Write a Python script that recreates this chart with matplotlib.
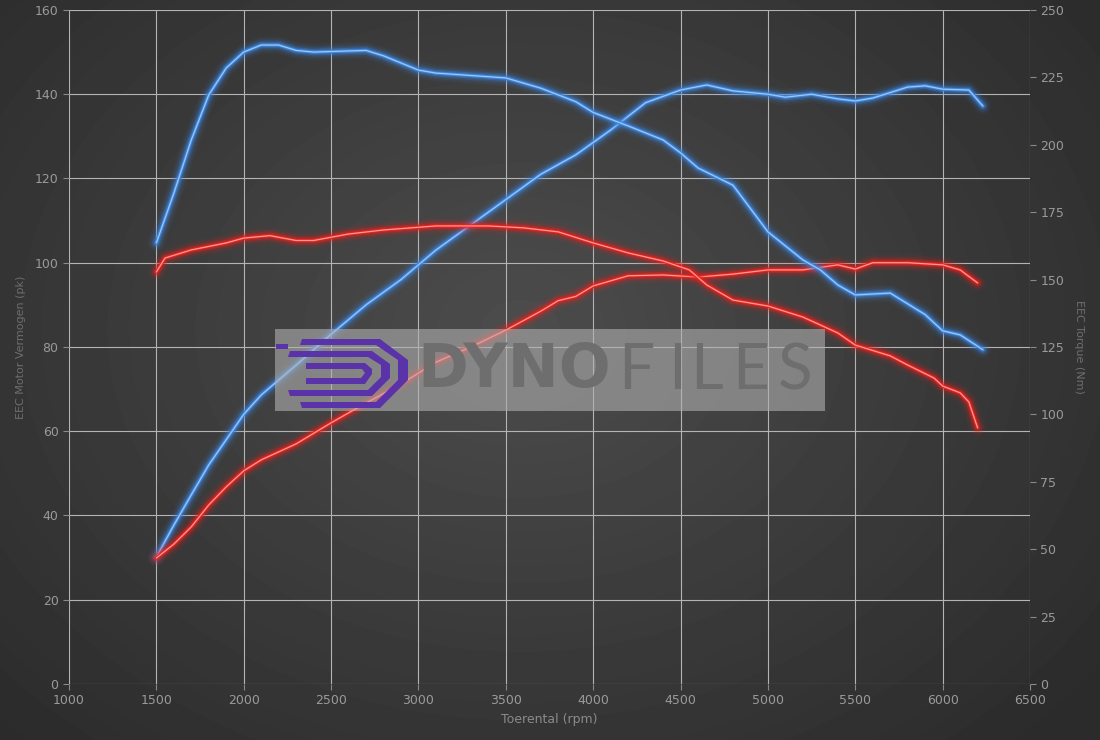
import numpy as np
import matplotlib
matplotlib.use("Agg")
import matplotlib.pyplot as plt
from matplotlib.patches import Rectangle, Polygon

# rpm / values
rpm_bp = [1500, 1600, 1700, 1800, 1900, 2000, 2100, 2300, 2500, 2700, 2900, 3100, 3300, 3500, 3700,
          3900, 4100, 4300, 4500, 4650, 4800, 5000, 5100, 5250, 5400, 5500, 5600, 5800, 5900, 6000, 6150, 6230]
blue_power = [30.1, 37.7, 44.9, 52, 58, 64, 68.6, 75.7, 83, 90, 96, 103, 109, 115, 121,
              125.6, 131.5, 138, 141, 142.2, 140.8, 140, 139.3, 140, 138.9, 138.4, 139.1, 141.7, 142, 141.2, 141, 137.2]

rpm_bt = [1500, 1600, 1700, 1800, 1900, 2000, 2100, 2200, 2300, 2400, 2600, 2700, 2800, 3000, 3100, 3500,
          3700, 3900, 4000, 4200, 4400, 4500, 4600, 4800, 5000, 5200, 5300, 5400, 5500, 5700, 5900, 6000, 6100, 6230]
blue_torque = [163.6, 182, 201.8, 218.5, 228.5, 234.4, 237, 237, 235, 234.4, 234.8, 235, 233, 227.7, 226.6, 224.8,
               221, 216, 212, 207, 201.8, 197, 191.4, 185, 167.7, 157.3, 153.6, 148, 144.3, 145, 137, 131, 129.5, 124]

rpm_rp = [1500, 1600, 1700, 1800, 1900, 2000, 2100, 2300, 2500, 2700, 2900, 3100, 3300, 3500, 3700, 3800,
          3900, 4000, 4200, 4400, 4600, 4800, 5000, 5200, 5400, 5500, 5600, 5800, 6000, 6100, 6200]
red_power = [29.9, 33.2, 37.3, 42.5, 46.8, 50.6, 53.2, 57, 62, 66.7, 71.2, 76.4, 80, 84, 88.5, 91,
             92, 94.5, 96.9, 97.1, 96.6, 97.3, 98.3, 98.3, 99.5, 98.5, 100, 100, 99.5, 98.3, 95.2]

rpm_rt = [1500, 1550, 1600, 1700, 1900, 2000, 2150, 2300, 2400, 2600, 2800, 3100, 3400, 3600, 3800, 4000,
          4200, 4400, 4550, 4650, 4800, 5000, 5200, 5400, 5500, 5700, 5800, 5950, 6000, 6100, 6150, 6200]
red_torque = [152.8, 158, 159, 161, 163.6, 165.4, 166.3, 164.5, 164.5, 166.9, 168.4, 169.9, 169.9, 169.2, 167.7, 163.6,
              159.9, 156.9, 153.6, 148, 142.4, 140.2, 136.1, 130.2, 125.7, 121.7, 118.3, 113.5, 110.5, 108, 104.6, 95]

fig = plt.figure(figsize=(11, 7.4), dpi=100)

# radial gradient background
bg = fig.add_axes([0, 0, 1, 1])
yy, xx = np.mgrid[0:740, 0:1100]
r = np.sqrt(((xx - 520) / 900.0) ** 2 + ((yy - 330) / 700.0) ** 2)
shade = np.clip(0.30 - 0.16 * r, 0.17, 0.30)
bg.imshow(shade, cmap="gray", vmin=0, vmax=1, aspect="auto", extent=[0, 1, 0, 1])
bg.axis("off")

ax = fig.add_axes([0.0627, 0.0757, 0.8737, 0.9108])
ax.set_facecolor("none")
ax2 = ax.twinx()

ax.set_xlim(1000, 6500)
ax.set_ylim(0, 160)
ax2.set_ylim(0, 250)
ax.set_xticks(range(1000, 6501, 500))
ax.set_yticks(range(0, 161, 20))
ax2.set_yticks(range(0, 251, 25))
ax.grid(True, color="#b4b4b4", linewidth=0.8)
ax.set_axisbelow(True)

for a in (ax, ax2):
    for s in a.spines.values():
        s.set_visible(False)
    a.tick_params(colors="#8a8a8a", labelcolor="#9a9a9a", labelsize=9, length=4)

ax.set_xlabel("Toerental (rpm)", color="#8a8a8a", fontsize=9, labelpad=4)
ax.set_ylabel("EEC Motor Vermogen (pk)", color="#6e6e6e", fontsize=8, labelpad=6)
ax2.set_ylabel("EEC Torque (Nm)", color="#6e6e6e", fontsize=8, rotation=270, labelpad=14)


def glow(a, x, y, col, core):
    for w, al in [(12, 0.07), (9, 0.1), (6.5, 0.18), (4.5, 0.35)]:
        a.plot(x, y, color=col, linewidth=w, alpha=al, solid_capstyle="round", solid_joinstyle="round")
    a.plot(x, y, color=col, linewidth=2.4, solid_capstyle="round", solid_joinstyle="round")
    a.plot(x, y, color=core, linewidth=0.9, solid_capstyle="round", solid_joinstyle="round")


blue = "#3d86e0"
red = "#e8221f"
glow(ax, rpm_bp, blue_power, blue, "#9cc8f7")
glow(ax2, rpm_bt, blue_torque, blue, "#9cc8f7")
glow(ax, rpm_rp, red_power, red, "#ff9a92")
glow(ax2, rpm_rt, red_torque, red, "#ff9a92")

# watermark
fig.patches.append(Rectangle((275 / 1100, 1 - 411 / 740), 550 / 1100, 82 / 740,
                             transform=fig.transFigure, facecolor="#b0b0b0", alpha=0.6,
                             edgecolor="none", zorder=10))
purple = "#5b33a8"
def px(x, y):
    return (x / 1100, 1 - y / 740)
logo = [
    [(302, 339), (380, 339), (408, 360), (408, 380), (380, 408), (302, 408), (300, 402), (376, 402), (398, 380), (398, 360), (376, 345), (300, 345)],
    [(290, 351), (372, 351), (390, 364), (390, 378), (372, 396), (290, 396), (288, 390), (368, 390), (381, 377), (381, 365), (368, 357), (288, 357)],
    [(306, 363), (365, 363), (372, 369), (372, 374), (365, 384), (306, 384), (306, 378), (361, 378), (365, 373), (362, 369), (306, 369)],
]
for poly in logo:
    fig.patches.append(Polygon([px(*p) for p in poly], closed=True, transform=fig.transFigure,
                               facecolor=purple, edgecolor="none", zorder=11))
fig.patches.append(Rectangle(px(276, 349), 12 / 1100, 5 / 740, transform=fig.transFigure,
                             facecolor=purple, zorder=11))
fig.text(417 / 1100, 1 - 371 / 740, "DYNO", fontsize=44, fontweight="bold", color="#6e6e6e",
         va="center", ha="left", zorder=12, family="DejaVu Sans")
for ch, xpos in zip("FILES", [618, 668, 690, 732, 778]):
    fig.text(xpos / 1100, 1 - 371 / 740, ch, fontsize=46, fontweight="normal", color="#6e6e6e",
             va="center", ha="left", zorder=12, family=["Lato", "DejaVu Sans"])

fig.savefig("out.png", dpi=100)
